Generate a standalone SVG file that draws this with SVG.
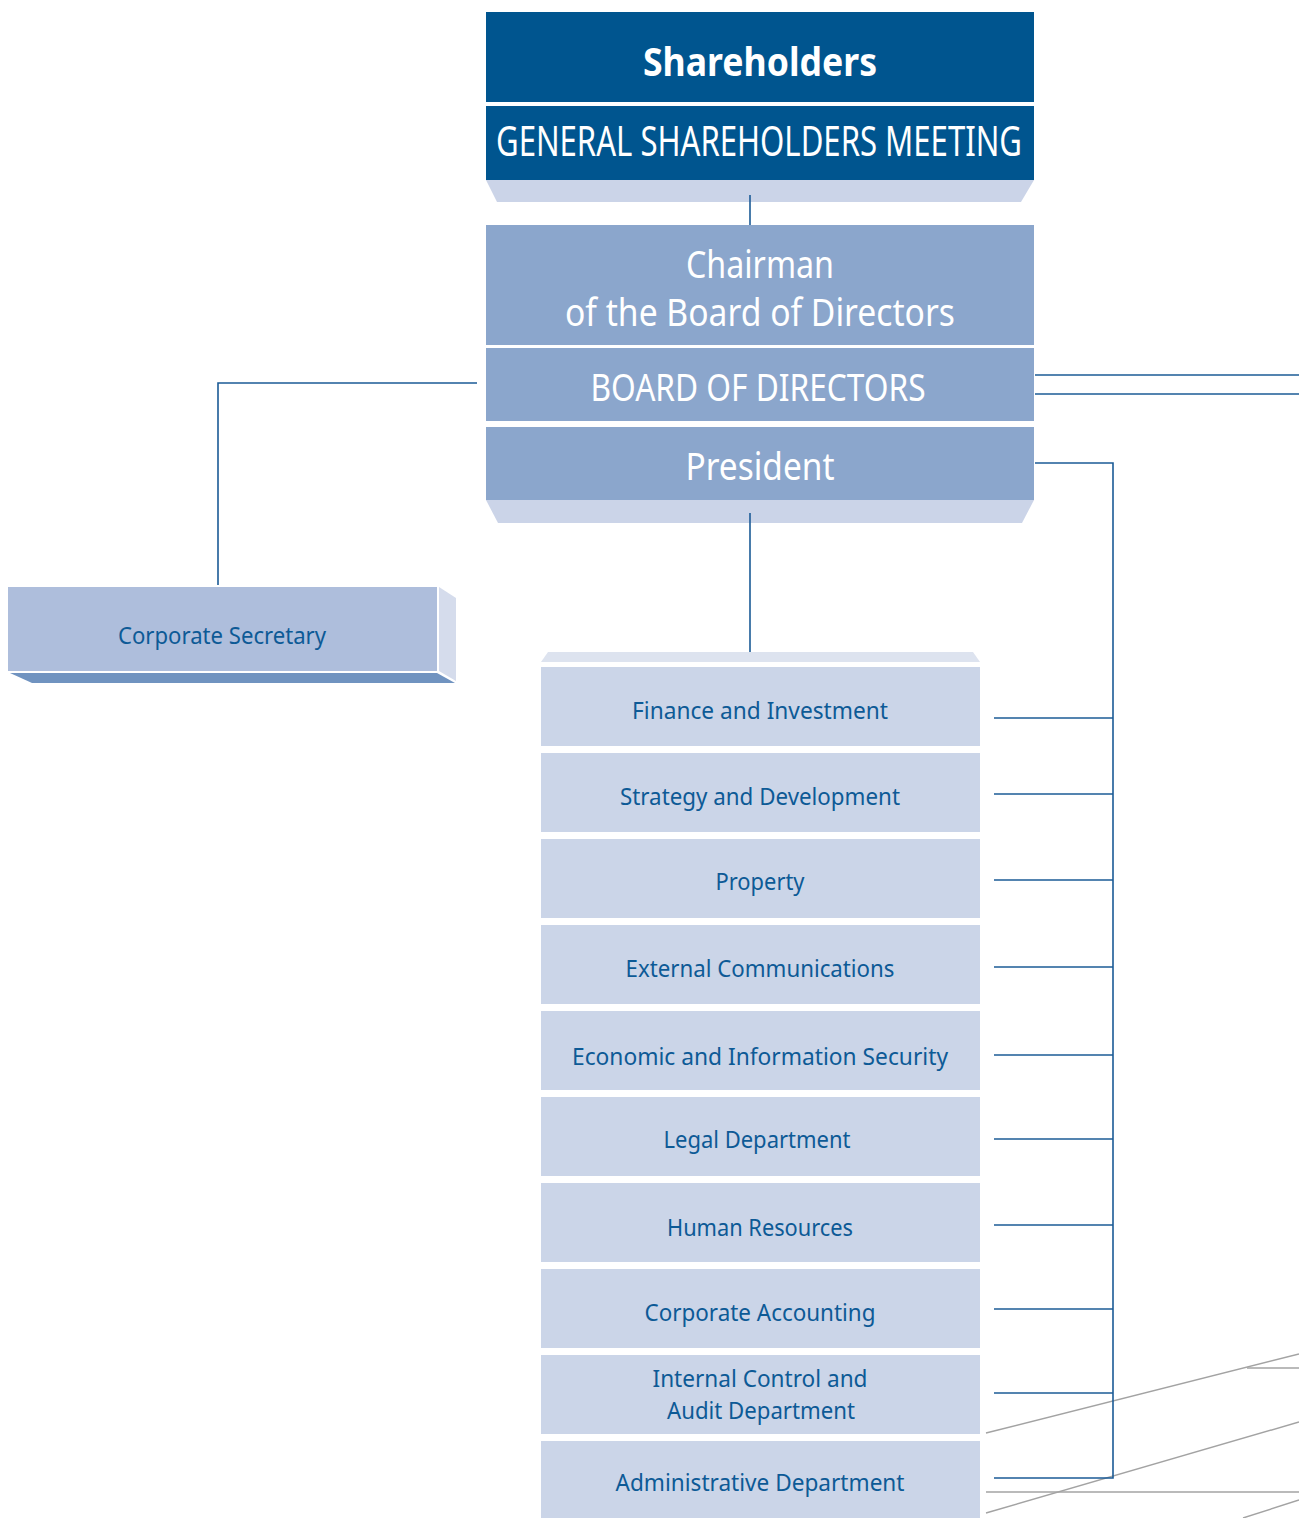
<svg xmlns="http://www.w3.org/2000/svg" width="1299" height="1518" viewBox="0 0 1299 1518">
<style>
.dark{fill:#00558f}
.mid{fill:#8ba6cc}
.shade{fill:#cbd4e8}
.dept{fill:#cbd5e8}
.wt{fill:#ffffff;font-family:"Noto Sans","Open Sans",sans-serif;text-anchor:middle}
.bt{fill:#0d5a96;font-family:"Noto Sans","Open Sans",sans-serif;text-anchor:middle;font-size:24px}
.conn{stroke:#1b5b96;stroke-width:1.6;fill:none}
.grey{stroke:#a3a3a3;stroke-width:1.4;fill:none}
</style>
<rect width="1299" height="1518" fill="#ffffff"/>

<g id="decor">
<line class="grey" x1="986" y1="1433" x2="1299" y2="1354"/>
<line class="grey" x1="1247" y1="1368" x2="1299" y2="1368"/>
<line class="grey" x1="986" y1="1513" x2="1299" y2="1422"/>
<line class="grey" x1="986" y1="1492" x2="1299" y2="1492"/>
<line class="grey" x1="1243" y1="1518" x2="1299" y2="1500"/>
</g>

<g id="connectors">
<line class="conn" x1="750" y1="195" x2="750" y2="225"/>
<polyline class="conn" points="477,383 218,383 218,585"/>
<line class="conn" x1="1035" y1="375" x2="1299" y2="375"/>
<line class="conn" x1="1035" y1="394" x2="1299" y2="394"/>
<line class="conn" x1="750" y1="513" x2="750" y2="653"/>
<polyline class="conn" points="1035,463 1113,463 1113,1478 994,1478"/>
<line class="conn" x1="994" y1="718" x2="1113" y2="718"/>
<line class="conn" x1="994" y1="794" x2="1113" y2="794"/>
<line class="conn" x1="994" y1="880" x2="1113" y2="880"/>
<line class="conn" x1="994" y1="967" x2="1113" y2="967"/>
<line class="conn" x1="994" y1="1055" x2="1113" y2="1055"/>
<line class="conn" x1="994" y1="1139" x2="1113" y2="1139"/>
<line class="conn" x1="994" y1="1225" x2="1113" y2="1225"/>
<line class="conn" x1="994" y1="1309" x2="1113" y2="1309"/>
<line class="conn" x1="994" y1="1393" x2="1113" y2="1393"/>
</g>

<g id="shareholders">
<rect class="dark" x="486" y="12" width="548" height="90"/>
<rect class="dark" x="486" y="106" width="548" height="74"/>
<polygon class="shade" points="486,180 1034,180 1021,202 497,202"/>
<line class="conn" x1="750" y1="195" x2="750" y2="202"/>
<text class="wt" x="760" y="76" font-size="40" font-weight="bold" textLength="234" lengthAdjust="spacingAndGlyphs">Shareholders</text>
<text class="wt" x="759" y="156" font-size="41" textLength="526" lengthAdjust="spacingAndGlyphs">GENERAL SHAREHOLDERS MEETING</text>
</g>

<g id="board">
<rect class="mid" x="486" y="225" width="548" height="120"/>
<rect class="mid" x="486" y="348" width="548" height="73"/>
<rect class="mid" x="486" y="427" width="548" height="73"/>
<polygon class="shade" points="486,500 1034,500 1022,523 498,523"/>
<line class="conn" x1="750" y1="513" x2="750" y2="523"/>
<text class="wt" x="760" y="278" font-size="38" textLength="148" lengthAdjust="spacingAndGlyphs">Chairman</text>
<text class="wt" x="760" y="326" font-size="38" textLength="390" lengthAdjust="spacingAndGlyphs">of the Board of Directors</text>
<text class="wt" x="758" y="401" font-size="38" textLength="335" lengthAdjust="spacingAndGlyphs">BOARD OF DIRECTORS</text>
<text class="wt" x="760" y="480" font-size="38" textLength="149" lengthAdjust="spacingAndGlyphs">President</text>
</g>

<g id="corporate-secretary">
<rect x="8" y="587" width="429" height="84" fill="#aebedc"/>
<polygon points="439,587 456,598 456,681 439,671" fill="#d5dcec"/>
<polygon points="10,673 437,673 455,683 32,683" fill="#7093c0"/>
<text class="bt" x="222" y="644" textLength="208" lengthAdjust="spacingAndGlyphs">Corporate Secretary</text>
</g>

<g id="departments">
<polygon points="548,652 973,652 980,662 541,662" fill="#dde3ef"/>
<g id="dept-finance"><rect class="dept" x="541" y="667" width="439" height="79"/><text class="bt" x="760" y="719" textLength="256" lengthAdjust="spacingAndGlyphs">Finance and Investment</text></g>
<g id="dept-strategy"><rect class="dept" x="541" y="753" width="439" height="79"/><text class="bt" x="760" y="805" textLength="280" lengthAdjust="spacingAndGlyphs">Strategy and Development</text></g>
<g id="dept-property"><rect class="dept" x="541" y="839" width="439" height="79"/><text class="bt" x="760" y="890" textLength="89" lengthAdjust="spacingAndGlyphs">Property</text></g>
<g id="dept-external"><rect class="dept" x="541" y="925" width="439" height="79"/><text class="bt" x="760" y="977" textLength="269" lengthAdjust="spacingAndGlyphs">External Communications</text></g>
<g id="dept-security"><rect class="dept" x="541" y="1011" width="439" height="79"/><text class="bt" x="760" y="1065" textLength="376" lengthAdjust="spacingAndGlyphs">Economic and Information Security</text></g>
<g id="dept-legal"><rect class="dept" x="541" y="1097" width="439" height="79"/><text class="bt" x="757" y="1148" textLength="187" lengthAdjust="spacingAndGlyphs">Legal Department</text></g>
<g id="dept-hr"><rect class="dept" x="541" y="1183" width="439" height="79"/><text class="bt" x="760" y="1236" textLength="186" lengthAdjust="spacingAndGlyphs">Human Resources</text></g>
<g id="dept-accounting"><rect class="dept" x="541" y="1269" width="439" height="79"/><text class="bt" x="760" y="1321" textLength="231" lengthAdjust="spacingAndGlyphs">Corporate Accounting</text></g>
<g id="dept-audit"><rect class="dept" x="541" y="1355" width="439" height="79"/><text class="bt" x="760" y="1387" textLength="215" lengthAdjust="spacingAndGlyphs">Internal Control and</text><text class="bt" x="761" y="1419" textLength="188" lengthAdjust="spacingAndGlyphs">Audit Department</text></g>
<g id="dept-admin"><rect class="dept" x="541" y="1441" width="439" height="77"/><text class="bt" x="760" y="1491" textLength="289" lengthAdjust="spacingAndGlyphs">Administrative Department</text></g>
</g>
</svg>
